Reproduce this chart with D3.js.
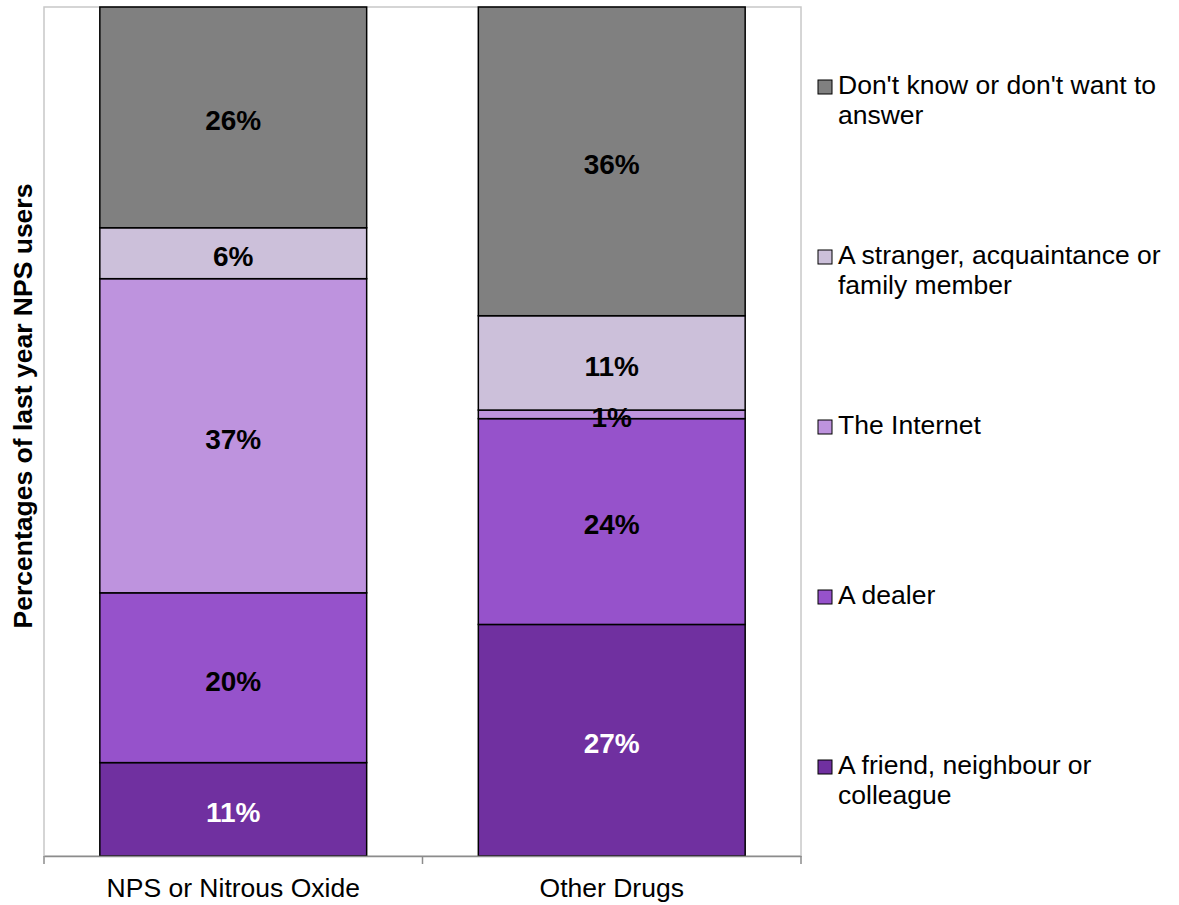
<!DOCTYPE html>
<html>
<head>
<meta charset="utf-8">
<script src="https://cdn.jsdelivr.net/npm/d3@7"></script>
<style>
  html, body { margin: 0; padding: 0; background: #fff; }
  svg { display: block; font-family: "Liberation Sans", Arial, sans-serif; }
</style>
</head>
<body>
<svg id="chart" width="1179" height="905"></svg>
<script>
// Categories along the x axis
const categories = ["NPS or Nitrous Oxide", "Other Drugs"];

// Sources of supply, bottom of the stack first
const seriesNames = [
  "A friend, neighbour or colleague",
  "A dealer",
  "The Internet",
  "A stranger, acquaintance or family member",
  "Don't know or don't want to answer"
];

// Legend text, wrapped into lines
const legendLines = [
  ["A friend, neighbour or", "colleague"],
  ["A dealer"],
  ["The Internet"],
  ["A stranger, acquaintance or", "family member"],
  ["Don't know or don't want to", "answer"]
];

// Percentage per source, one array per category
const npsValues   = [11, 20, 37, 6, 26];
const otherValues = [27, 24, 1, 11, 36];

const seriesColors = ["#7030a0", "#9652cb", "#be93de", "#ccc0da", "#808080"];
const labelColors  = ["#ffffff", "#000000", "#000000", "#000000", "#000000"];

const yTitle = "Percentages of last year NPS users";

// Build rows for d3.stack
const rows = categories.map((c, i) => {
  const vals = i === 0 ? npsValues : otherValues;
  const row = { category: c };
  seriesNames.forEach((s, j) => row[s] = vals[j]);
  return row;
});

const stack = d3.stack().keys(seriesNames).offset(d3.stackOffsetExpand);
const layers = stack(rows);

const svg = d3.select("#chart");
const plot = { left: 44, right: 801, top: 7, bottom: 856 };

const x = d3.scaleBand()
  .domain(categories)
  .range([plot.left, plot.right])
  .paddingInner(0.295)
  .paddingOuter(0.1475);

const y = d3.scaleLinear().domain([0, 1]).range([plot.bottom, plot.top]);

// Plot area frame
svg.append("rect")
  .attr("x", plot.left).attr("y", plot.top)
  .attr("width", plot.right - plot.left).attr("height", plot.bottom - plot.top)
  .attr("fill", "none").attr("stroke", "#c8c8c8").attr("stroke-width", 1.5);

// Bars
const g = svg.append("g");
layers.forEach((layer, j) => {
  g.selectAll(null).data(layer).enter().append("rect")
    .attr("x", d => x(d.data.category))
    .attr("y", d => y(d[1]))
    .attr("width", x.bandwidth())
    .attr("height", d => y(d[0]) - y(d[1]))
    .attr("fill", seriesColors[j])
    .attr("stroke", "#000")
    .attr("stroke-width", 1.5);
});

// Value labels
layers.forEach((layer, j) => {
  g.selectAll(null).data(layer).enter().append("text")
    .attr("x", d => x(d.data.category) + x.bandwidth() / 2)
    .attr("y", d => (y(d[0]) + y(d[1])) / 2)
    .attr("dy", "0.46em")
    .attr("text-anchor", "middle")
    .attr("font-size", 28)
    .attr("font-weight", "bold")
    .attr("fill", labelColors[j])
    .text(d => d.data[layer.key] + "%");
});

// X axis
const xAxis = d3.axisBottom(x).tickSize(0).tickPadding(0);
const ax = svg.append("g").attr("transform", `translate(0,${plot.bottom})`).call(xAxis);
ax.select(".domain").attr("stroke", "#8c8c8c").attr("stroke-width", 1.5);
ax.selectAll(".tick text")
  .attr("font-size", 26.5)
  .attr("font-family", "Liberation Sans, Arial, sans-serif")
  .attr("fill", "#000")
  .attr("dy", 0)
  .attr("y", 41);

// Category separators on the axis
const edges = [plot.left, ...categories.slice(1).map(c => x(c) - x.step() * x.paddingInner() / 2), plot.right];
svg.append("g").selectAll("line").data(edges).enter().append("line")
  .attr("x1", d => d).attr("x2", d => d)
  .attr("y1", plot.bottom).attr("y2", plot.bottom + 8)
  .attr("stroke", "#8c8c8c").attr("stroke-width", 1.5);

// Y axis title
svg.append("text")
  .attr("transform", `translate(32,406) rotate(-90)`)
  .attr("text-anchor", "middle")
  .attr("font-size", 26.5)
  .attr("font-weight", "bold")
  .text(yTitle);

// Legend, top entry first
const legendOrder = d3.range(seriesNames.length).reverse();
const legend = svg.append("g");
legendOrder.forEach((j, k) => {
  const baseY = 94 + k * 170;
  legend.append("rect")
    .attr("x", 818).attr("y", baseY - 14)
    .attr("width", 14).attr("height", 14)
    .attr("fill", seriesColors[j]).attr("stroke", "#000").attr("stroke-width", 1);
  const t = legend.append("text")
    .attr("x", 838).attr("y", baseY)
    .attr("font-size", 26.5)
    .attr("fill", "#000");
  legendLines[j].forEach((line, i) => {
    t.append("tspan").attr("x", 838).attr("y", baseY + i * 30).text(line);
  });
});
</script>
</body>
</html>
